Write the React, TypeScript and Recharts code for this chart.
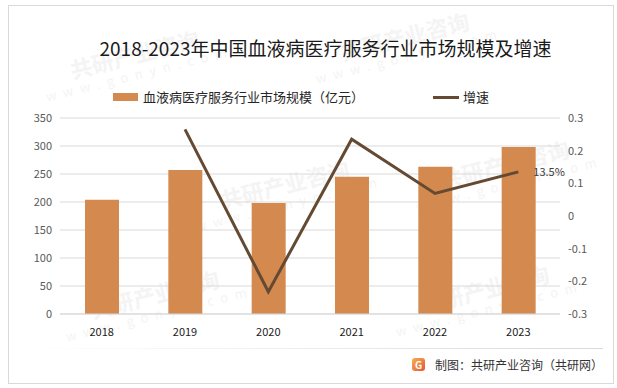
import React from "react";
import {
  ComposedChart,
  Bar,
  Line,
  XAxis,
  YAxis,
  CartesianGrid,
  LabelList,
} from "recharts";

const years = ["2018", "2019", "2020", "2021", "2022", "2023"];
const marketSize = [204, 257, 198, 245, 263, 298];
const growth = [null, 0.265, -0.232, 0.235, 0.069, 0.135];
const leftTicks = [0, 50, 100, 150, 200, 250, 300, 350];
const rightTicks = [-0.3, -0.2, -0.1, 0, 0.1, 0.2, 0.3];

const data = years.map((year, i) => ({
  year,
  size: marketSize[i],
  growth: growth[i],
}));

const BAR_COLOR = "#D48A4E";
const LINE_COLOR = "#654A33";
const FONT = "'Noto Sans CJK SC', 'Noto Sans', sans-serif";

// faint watermark spots (left, top), kept inside the frame
const marks = [
  [40, 40],
  [310, 22],
  [190, 170],
  [410, 150],
  [60, 280],
  [390, 275],
];

const GrowthLabel = (props: any) => {
  const { x, y, index } = props;
  if (index !== years.length - 1) return null;
  return (
    <text x={x + 15} y={y + 4} fontSize={11} fill="#404040" fontFamily={FONT}>
      13.5%
    </text>
  );
};

export default function App() {
  return (
    <div
      style={{
        position: "absolute",
        left: 0,
        top: 0,
        width: 617,
        height: 388,
        background: "#fff",
        fontFamily: FONT,
        overflow: "hidden",
      }}
    >
      {marks.map(([l, t], i) => (
        <div
          key={i}
          style={{
            position: "absolute",
            left: l,
            top: t,
            transform: "rotate(-14deg)",
            color: "#f4f4f4",
            textAlign: "center",
            whiteSpace: "nowrap",
          }}
        >
          <div style={{ fontSize: 22, fontWeight: 700, lineHeight: "26px" }}>共研产业咨询</div>
          <div style={{ fontSize: 13, letterSpacing: 7, lineHeight: "16px" }}>www.gonyn.com</div>
        </div>
      ))}

      {/* frame */}
      <div
        style={{
          position: "absolute",
          left: 8,
          top: 5,
          width: 604,
          height: 377,
          border: "1px solid #d9d9d9",
        }}
      />
      <div
        style={{
          position: "absolute",
          left: 0,
          width: 617,
          top: 35,
          textAlign: "center",
          fontSize: 19,
          color: "#1a1a1a",
          paddingLeft: 34,
          boxSizing: "border-box",
          lineHeight: "26px",
        }}
      >
        2018-2023年中国血液病医疗服务行业市场规模及增速
      </div>

      {/* legend */}
      <div
        style={{
          position: "absolute",
          left: 113,
          top: 88,
          display: "flex",
          alignItems: "center",
          fontSize: 13,
          color: "#262626",
          lineHeight: "18px",
        }}
      >
        <span style={{ width: 25, height: 8, background: BAR_COLOR, marginRight: 5 }} />
        <span>血液病医疗服务行业市场规模（亿元）</span>
        <span style={{ width: 26, height: 3, background: LINE_COLOR, marginLeft: 69, marginRight: 4 }} />
        <span>增速</span>
      </div>

      <div style={{ position: "absolute", left: 0, top: 0 }}>
        <ComposedChart
          width={617}
          height={388}
          data={data}
          margin={{ top: 118, right: 27, bottom: 44, left: 20 }}
        >
          <CartesianGrid vertical={false} stroke="#d9d9d9" yAxisId="left" />
          <XAxis
            dataKey="year"
            axisLine={{ stroke: "#d9d9d9" }}
            tickLine={false}
            tickMargin={8}
            height={30}
            tick={{ fill: "#1a1a1a", fontSize: 11, fontFamily: FONT }}
          />
          <YAxis
            yAxisId="left"
            domain={[0, 350]}
            ticks={leftTicks}
            width={40}
            axisLine={false}
            tickLine={false}
            tick={{ fill: "#595959", fontSize: 11, fontFamily: FONT }}
          />
          <YAxis
            yAxisId="right"
            orientation="right"
            domain={[-0.3, 0.3]}
            ticks={rightTicks}
            width={30}
            axisLine={false}
            tickLine={false}
            tickFormatter={(v: number) => (v === 0 ? "0" : String(Math.round(v * 10) / 10))}
            tick={{ fill: "#595959", fontSize: 11, fontFamily: FONT }}
          />
          <Bar
            yAxisId="left"
            dataKey="size"
            fill={BAR_COLOR}
            barSize={34}
            isAnimationActive={false}
          />
          <Line
            yAxisId="right"
            dataKey="growth"
            stroke={LINE_COLOR}
            strokeWidth={3}
            dot={false}
            activeDot={false}
            type="linear"
            isAnimationActive={false}
          >
            <LabelList dataKey="growth" content={GrowthLabel} />
          </Line>
        </ComposedChart>
      </div>

      {/* footer */}
      <div
        style={{
          position: "absolute",
          left: 28,
          top: 348,
          width: 575,
          height: 1,
          background: "linear-gradient(to right, rgba(217,217,217,0), #d9d9d9)",
        }}
      />
      <div
        style={{
          position: "absolute",
          left: 412,
          top: 356,
          display: "flex",
          alignItems: "center",
          fontSize: 12,
          color: "#333",
        }}
      >
        <span
          style={{
            width: 13,
            height: 13,
            borderRadius: 3,
            background: "linear-gradient(135deg, #f6b04a, #e8553a)",
            color: "#fff",
            fontSize: 10,
            fontWeight: 700,
            lineHeight: "13px",
            textAlign: "center",
            marginRight: 10,
          }}
        >
          G
        </span>
        <span>制图：共研产业咨询（共研网）</span>
      </div>
    </div>
  );
}
